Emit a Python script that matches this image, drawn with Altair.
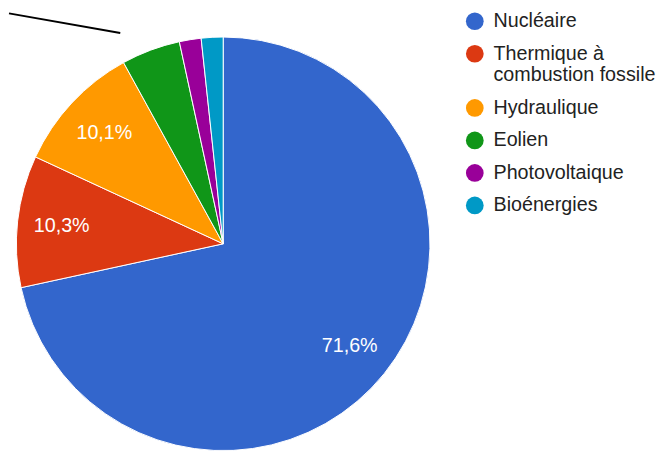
import altair as alt
import pandas as pd

categories = ["Nucléaire", "Thermique à combustion fossile", "Hydraulique", "Eolien", "Photovoltaique", "Bioénergies"]
values = [71.6, 10.3, 10.1, 4.6, 1.7, 1.7]
labels = ["71,6%", "10,3%", "10,1%", "", "", ""]
colors = ["#3366cc", "#dc3912", "#ff9900", "#109618", "#990099", "#0099c6"]

df = pd.DataFrame({"cat": categories, "val": values, "lab": labels, "ord": list(range(len(categories)))})

CX, CY, R = 217.5, 236, 210

base = alt.Chart(df).encode(
    theta=alt.Theta("val:Q", stack=True),
    order=alt.Order("ord:Q"),
)

arcs = base.mark_arc(outerRadius=R, stroke="white", strokeWidth=1).encode(
    x=alt.value(CX), y=alt.value(CY),
    color=alt.Color(
        "cat:N",
        scale=alt.Scale(domain=categories, range=colors),
        sort=categories,
        legend=alt.Legend(
            title=None, orient="none", legendX=463, legendY=0, padding=0,
            symbolType="circle", symbolSize=324, symbolStrokeWidth=0,
            labelFont="Liberation Sans", labelFontSize=20, labelColor="#222222",
            labelOffset=9, rowPadding=13, labelLimit=300,
            labelExpr="datum.label == 'Thermique à combustion fossile' ? ['Thermique à', 'combustion fossile'] : datum.label",
        ),
    ),
)

text = base.mark_text(radius=165, font="Liberation Sans", fontSize=20, color="white").encode(
    x=alt.value(CX), y=alt.value(CY),
    text="lab:N",
)

line_df = pd.DataFrame({"a": [0]})
stray = alt.Chart(line_df).mark_rule(color="black", strokeWidth=2).encode(
    x=alt.value(0), y=alt.value(2), x2=alt.value(113), y2=alt.value(22)
)

chart = alt.layer(arcs, text, stray).properties(
    width=450, height=447, padding=0
).configure_view(stroke=None)

chart.save("out.html", embed_options={"renderer": "svg", "actions": False})
